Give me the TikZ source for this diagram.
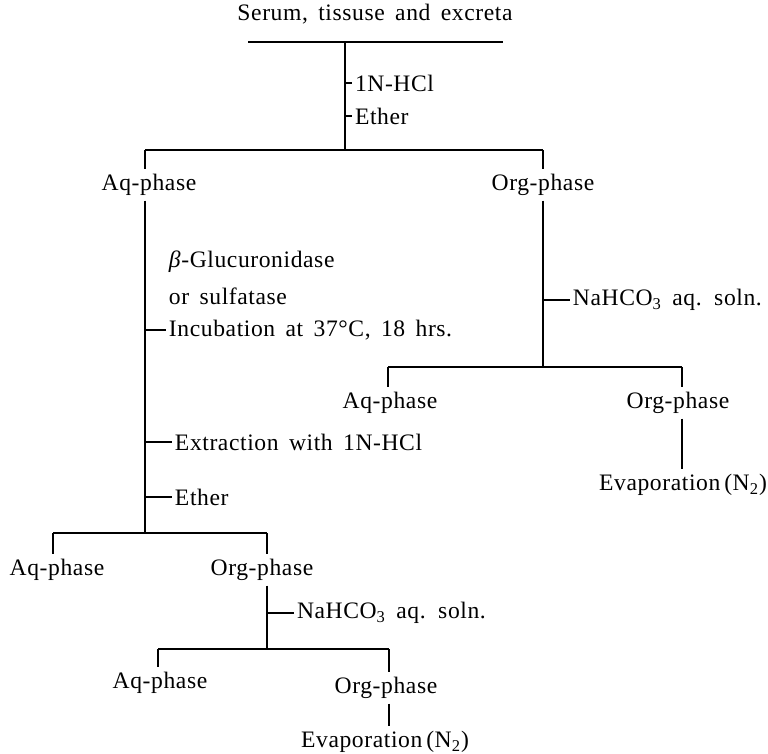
\documentclass[tikz,border=0pt]{standalone}
\usepackage{fontspec}
\setmainfont{Liberation Serif}[LetterSpace=2.5,WordSpace=1.6]
\begin{document}
\begin{tikzpicture}[x=0.5pt,y=-0.5pt,line width=1pt,
  txt/.style={inner sep=2pt,font=\fontsize{11.8}{14}\selectfont},
  side/.style={txt,anchor=west,inner ysep=0pt,inner xsep=1pt}]
\useasboundingbox (0,0) rectangle (768,754);
% title
\node[txt] (title) at (375,14) {Serum, tissuse and excreta};
\coordinate (tl) at (248,42);
\coordinate (tr) at (503,42);
\coordinate (s0) at (345,42);
\coordinate (j1) at (345,150);
\coordinate (j1l) at (145,150);
\coordinate (j1r) at (543,150);
\draw (tl) -- (tr);
\draw (s0) -- (j1);
\node[side] (r1) at (352,83) {1N-HCl};
\node[side] (r2) at (352,116) {Ether};
\draw (s0 |- r1) -- (r1.west);
\draw (s0 |- r2) -- (r2.west);
\draw (j1l) -- (j1r);
\node[txt] (aq1) at (149,185) {Aq-phase};
\node[txt] (org1) at (543,185) {Org-phase};
\draw (j1l) -- (j1l |- aq1.north);
\draw (j1r) -- (j1r |- org1.north);
% left column
\coordinate (j2) at (145,533);
\draw (j1l |- aq1.south) -- (j2);
\node[side] (g1) at (166,262) {\textit{β}-Glucuronidase};
\node[side] (g2) at (166,296) {or sulfatase};
\node[side] (g3) at (166,330) {Incubation at 37°C, 18 hrs.};
\draw (j2 |- g3) -- (g3.west);
\node[side] (e1) at (172,442) {Extraction with 1N-HCl};
\node[side] (e2) at (172,497) {Ether};
\draw (j2 |- e1) -- (e1.west);
\draw (j2 |- e2) -- (e2.west);
\coordinate (j2l) at (53,533);
\coordinate (j2r) at (267,533);
\draw (j2l) -- (j2r);
\node[txt] (aq2) at (57,570) {Aq-phase};
\node[txt] (org2) at (262,570) {Org-phase};
\draw (j2l) -- (j2l |- aq2.north);
\draw (j2r) -- (j2r |- org2.north);
\coordinate (j3) at (267,649);
\draw (j2r |- org2.south) -- (j3);
\node[side] (n2) at (294,613) {NaHCO\textsubscript{3} aq. soln.};
\draw (j3 |- n2) -- (n2.west);
\coordinate (j3l) at (158,649);
\coordinate (j3r) at (389,649);
\draw (j3l) -- (j3r);
\node[txt] (aq3) at (160,683) {Aq-phase};
\node[txt] (org3) at (386,688) {Org-phase};
\node[txt] (ev2) at (385,742) {Evaporation\,(N\textsubscript{2})};
\draw (j3l) -- (j3l |- aq3.north);
\draw (j3r) -- (j3r |- org3.north);
\draw (j3r |- org3.south) -- (j3r |- ev2.north);
% right column
\coordinate (j4) at (543,367);
\draw (j1r |- org1.south) -- (j4);
\node[side] (n1) at (570,300) {NaHCO\textsubscript{3} aq. soln.};
\draw (j4 |- n1) -- (n1.west);
\coordinate (j4l) at (388,367);
\coordinate (j4r) at (682,367);
\draw (j4l) -- (j4r);
\node[txt] (aq4) at (390,403) {Aq-phase};
\node[txt] (org4) at (678,403) {Org-phase};
\node[txt] (ev1) at (683,485) {Evaporation\,(N\textsubscript{2})};
\draw (j4l) -- (j4l |- aq4.north);
\draw (j4r) -- (j4r |- org4.north);
\draw (j4r |- org4.south) -- (j4r |- ev1.north);
\end{tikzpicture}
\end{document}
